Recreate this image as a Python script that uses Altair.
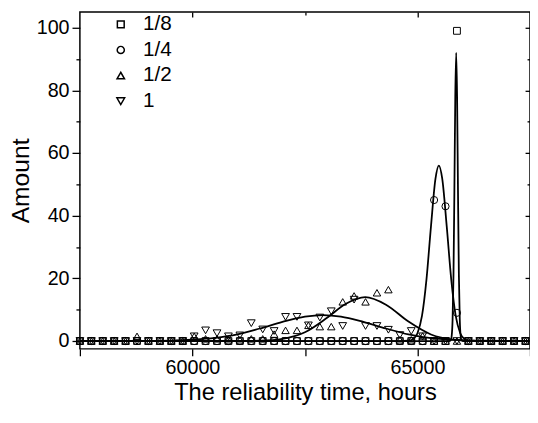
import altair as alt
import pandas as pd

# ---------------- data ----------------
series_names = ["1/8", "1/4", "1/2", "1"]

x_hours = [57500, 57754, 58008, 58262, 58515, 58769, 59023, 59277, 59531, 59785,
           60039, 60292, 60546, 60800, 61054, 61308, 61562, 61815, 62069, 62323,
           62577, 62831, 63085, 63339, 63592, 63846, 64100, 64354, 64608, 64862,
           65115, 65369, 65623, 65877, 66131, 66385, 66639, 66892, 67146, 67400]

amount_1_8 = [0, 0, 0, 0, 0, 0, 0, 0, 0, 0,
              0, 0, 0, 0, 0, 0, 0, 0, 0, 0,
              0, 0, 0, 0, 0, 0, 0, 0, 0, 0,
              0, 0, 0, 99, 0, 0, 0, 0, 0, 0]

amount_1_4 = [0, 0, 0, 0, 0, 0, 0, 0, 0, 0,
              0, 0, 0, 0, 0, 0, 0, 0, 0, 0,
              0, 0, 0, 0, 0, 0, 0, 0, 0, 0,
              0, 45, 43, 9, 0, 0, 0, 0, 0, 0]

amount_1_2 = [0, 0, 0, 0, 0, 1.5, 0, 0, 0, 0,
              1.5, 0.7, 0.7, 0.4, 0.4, 0.7, 0.7, 2.2, 3.4, 3.4,
              5.0, 4.6, 4.6, 12.5, 14.4, 12.5, 15.4, 16.4, 0.4, 0.4,
              1.6, 0, 0, 0, 0, 0, 0, 0, 0, 0]

amount_1 = [0, 0, 0, 0, 0, 0, 0, 0, 0, 0,
            1.5, 3.4, 2.5, 1.5, 1.8, 5.7, 3.7, 3.2, 7.7, 7.7,
            5.0, 7.5, 9.5, 4.8, 13.2, 4.8, 4.8, 3.6, 1.9, 3.2,
            1.5, 0, 0, 0, 0, 0, 0, 0, 0, 0]

# fitted curves
fit_1_8_x = [57500, 65700, 65740, 65760, 65780, 65800, 65820, 65840, 65860,
             65880, 65900, 65920, 65940, 65960, 65980, 66020, 67500]
fit_1_8_y = [0, 0, 0.3, 1.6, 6.8, 21, 48, 78, 92, 78, 48, 21, 6.8, 1.6, 0.3, 0, 0]

fit_1_4_x = [57500, 64600, 64800, 64900, 65000, 65100, 65200, 65300, 65400,
             65475, 65550, 65650, 65750, 65850, 65950, 66050, 66150, 66400, 67500]
fit_1_4_y = [0, 0, 0.1, 0.6, 2.5, 8.0, 19.7, 36.6, 51.8,
             56, 51.8, 36.6, 19.7, 8.0, 2.5, 0.6, 0.1, 0, 0]

fit_1_2_x = [57500, 61000, 61500, 62000, 62500, 63000, 63400, 63840,
             64300, 64800, 65300, 65800, 66300, 67500]
fit_1_2_y = [0, 0.01, 0.11, 0.69, 2.8, 7.5, 11.8, 14,
             11.6, 6.2, 2.1, 0.46, 0.06, 0]

fit_1_x = [57500, 59000, 59500, 60000, 60500, 61000, 61500, 62000, 62500,
           62900, 63300, 63800, 64300, 64800, 65300, 65800, 66300, 67500]
fit_1_y = [0, 0.05, 0.15, 0.45, 1.0, 2.1, 4.0, 6.1, 7.8,
           8.3, 7.8, 6.1, 4.0, 2.1, 0.9, 0.35, 0.1, 0]

shape_range = ["square", "circle", "triangle-up", "triangle-down"]
size_range = [48, 62, 95, 95]

# ---------------- tables ----------------
rows = []
for name, ys in zip(series_names, [amount_1_8, amount_1_4, amount_1_2, amount_1]):
    for xv, yv in zip(x_hours, ys):
        rows.append({"series": name, "hours": xv, "amount": yv})
points_df = pd.DataFrame(rows)

crows = []
for name, xs, ys in zip(series_names,
                        [fit_1_8_x, fit_1_4_x, fit_1_2_x, fit_1_x],
                        [fit_1_8_y, fit_1_4_y, fit_1_2_y, fit_1_y]):
    for k, (xv, yv) in enumerate(zip(xs, ys)):
        crows.append({"series": name, "hours": xv, "amount": yv, "k": k})
curves_df = pd.DataFrame(crows)

W, H = 457, 342
FONT = "Liberation Sans"

xscale = alt.Scale(domain=[57500, 67500], nice=False, zero=False)
yscale = alt.Scale(domain=[-2.5, 105], nice=False, zero=False)

x_major = [57500, 60000, 62500, 65000, 67500]
y_major = [0, 20, 40, 60, 80, 100]
y_minor = [10, 30, 50, 70, 90]

legend = alt.Legend(
    title=None, orient="none", legendX=31, legendY=2,
    labelFont=FONT, labelFontSize=21, labelColor="black",
    labelOffset=12, rowPadding=4,
    labelExpr="datum.label == '1' ? '\u00a0\u00a0\u00a01' : datum.label",
)

points = alt.Chart(points_df).mark_point(
    filled=False, color="black", strokeWidth=1, opacity=1
).encode(
    x=alt.X("hours:Q", scale=xscale,
            axis=alt.Axis(orient="bottom", values=x_major, tickSize=7, format="d",
                          labelExpr="datum.value == 60000 || datum.value == 65000 ? datum.label : ''",
                          labelFontSize=20, labelPadding=2, domain=False,
                          title="The reliability time, hours", titleFontSize=24,
                          titlePadding=3, titleFontWeight="normal")),
    y=alt.Y("amount:Q", scale=yscale,
            axis=alt.Axis(orient="left", values=y_major, tickSize=8, format="d",
                          labelFontSize=20, labelPadding=3, domain=False,
                          title="Amount", titleFontSize=25, titlePadding=3,
                          titleFontWeight="normal")),
    shape=alt.Shape("series:N", scale=alt.Scale(domain=series_names, range=shape_range),
                    legend=legend),
    size=alt.Size("series:N", scale=alt.Scale(domain=series_names, range=size_range),
                  legend=legend),
)

curves = alt.Chart(curves_df).mark_line(
    color="black", strokeWidth=1.8, interpolate="monotone", clip=True
).encode(
    x=alt.X("hours:Q", scale=xscale,
            axis=alt.Axis(orient="bottom", offset=-H, values=[60000, 65000], tickSize=5,
                          labels=False, domain=False, title=None)),
    y=alt.Y("amount:Q", scale=yscale,
            axis=alt.Axis(orient="left", offset=-W, values=y_major, tickSize=5,
                          labels=False, domain=False, title=None)),
    detail="series:N",
    order="k:Q",
)

minor_a = alt.Chart(points_df).mark_point(opacity=0).encode(
    x=alt.X("hours:Q", scale=xscale,
            axis=alt.Axis(orient="bottom", offset=-H, values=[62500], tickSize=3,
                          labels=False, domain=False, title=None)),
    y=alt.Y("amount:Q", scale=yscale,
            axis=alt.Axis(orient="left", values=y_minor, tickSize=4,
                          labels=False, domain=False, title=None)),
)

minor_b = alt.Chart(points_df).mark_point(opacity=0).encode(
    x=alt.X("hours:Q", scale=xscale, axis=None),
    y=alt.Y("amount:Q", scale=yscale,
            axis=alt.Axis(orient="left", offset=-W, values=y_minor, tickSize=3,
                          labels=False, domain=False, title=None)),
)

chart = alt.layer(minor_a, minor_b, curves, points).resolve_axis(
    x="independent", y="independent"
).properties(
    width=W, height=H,
    padding={"left": 73, "top": 1, "right": 0, "bottom": 60},
    autosize=alt.AutoSizeParams(type="none"),
).configure_view(
    stroke="black", strokeWidth=1.5
).configure_axis(
    labelFont=FONT, titleFont=FONT, labelColor="black", titleColor="black",
    tickColor="black", tickWidth=1.3, domainColor="black", grid=False,
)

chart.save("out.html", embed_options={"renderer": "svg", "actions": False})
